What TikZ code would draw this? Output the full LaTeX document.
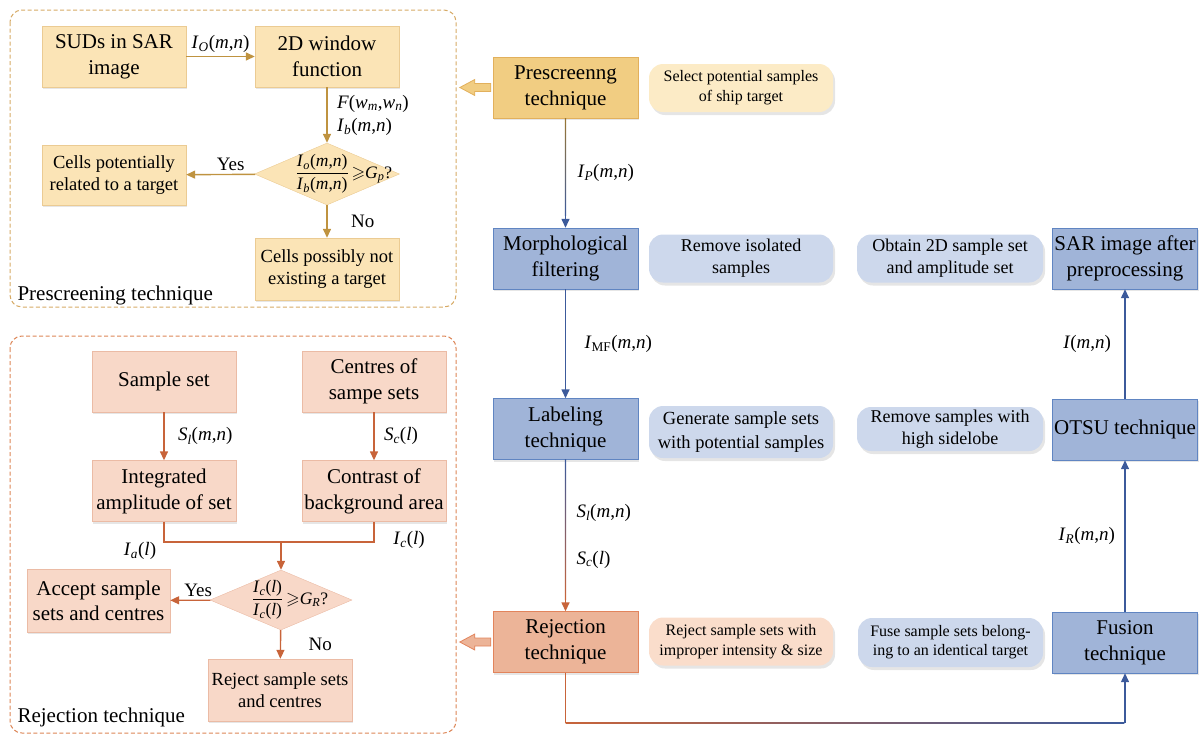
\documentclass[tikz,border=0pt]{standalone}
\usepackage{amssymb}
\usepackage{fontspec}
\setmainfont{Liberation Serif}
\usetikzlibrary{arrows.meta}
\usetikzlibrary{shapes.geometric}
\usetikzlibrary{shadows}

\definecolor{wheatf}{HTML}{FBE4B6}
\definecolor{wheatd}{HTML}{EBCB93}
\definecolor{goldf}{HTML}{F1CD82}
\definecolor{goldd}{HTML}{E2B05C}
\definecolor{goldc}{HTML}{BF9340}
\definecolor{peachf}{HTML}{F8D8C8}
\definecolor{peachd}{HTML}{EBBBA5}
\definecolor{rejf}{HTML}{ECB498}
\definecolor{rejd}{HTML}{E2845C}
\definecolor{orangec}{HTML}{C8643A}
\definecolor{bluef}{HTML}{A0B4D8}
\definecolor{blued}{HTML}{6085C2}
\definecolor{bluec}{HTML}{3C5A9B}
\definecolor{bluen}{HTML}{CDD8EC}
\definecolor{creamn}{HTML}{FCEBC6}
\definecolor{peachn}{HTML}{FADDCB}
\definecolor{pandash}{HTML}{D6AA66}
\definecolor{randash}{HTML}{DC8556}

\newcommand{\sbs}[2]{\textit{#1}\textsubscript{\textit{#2}}}
\newcommand{\mn}{(\textit{m},\textit{n})}

\begin{document}
\begin{tikzpicture}[x=1pt,y=-1pt,
	>={Triangle[length=9pt,width=8pt]},
	tbox/.style={draw=wheatd, fill=wheatf, minimum width=144pt, minimum height=61pt, align=center, inner sep=1pt, font=\fontsize{21}{26}\selectfont, drop shadow={shadow xshift=1pt, shadow yshift=-2pt, opacity=.2}},
	rbox/.style={tbox, draw=peachd, fill=peachf},
	mbox/.style={tbox, minimum width=145pt, draw=blued, fill=bluef},
	note/.style={rounded corners=14pt, minimum width=184pt, minimum height=48pt, align=center, inner sep=1pt, font=\fontsize{16}{20}\selectfont, drop shadow={shadow xshift=2pt, shadow yshift=-3pt, opacity=.25, fill=black!40}},
	dia/.style={diamond, draw=wheatd, fill=wheatf, minimum width=145pt, minimum height=62pt, inner sep=0pt},
	garr/.style={draw=goldc, line width=1.4pt},
	oarr/.style={draw=orangec, line width=1.4pt},
	barr/.style={draw=bluec, line width=1.4pt},
	lbl/.style={font=\fontsize{19}{23}\selectfont},
	ptitle/.style={anchor=west, font=\fontsize{21}{25}\selectfont},
	]
	\useasboundingbox (0,0) rectangle (1204,734);
	
	% dashed panels
	\draw[pandash, line width=1pt, dash pattern=on 4pt off 2.5pt, rounded corners=12pt] (10,10) rectangle (456,307);
	\draw[randash, line width=1pt, dash pattern=on 4pt off 2.5pt, rounded corners=12pt] (10,336) rectangle (456,733);
	
	% prescreening panel
	\node[tbox] (sud) at (114,56.5) {SUDs in SAR\\image};
	\node[tbox] (win) at (327,56.5) {2D window\\function};
	\node[dia, label={[xshift=17pt, font=\fontsize{17.5}{20}\selectfont]center:{$\displaystyle\frac{\hbox{\sbs{I}{o}\mn}}{\hbox{\sbs{I}{b}\mn}}$\,$\geqslant$\sbs{G}{p}?}}] (d1) at (327,174) {};
	\node[tbox, minimum height=60pt, font=\fontsize{18.5}{22}\selectfont] (cpr) at (114,175) {Cells potentially\\related to a target};
	\node[tbox, minimum height=62pt, font=\fontsize{18.5}{22}\selectfont] (cpn) at (327,269) {Cells possibly not\\existing a target};
	\node[ptitle] (pt1) at (14,295) {Prescreening technique};
	
	\draw[garr,->] (sud) -- (win) node[midway, above, lbl] {\sbs{I}{O}\mn};
	\draw[garr,->] (win) -- (d1) node[midway, right=6pt, lbl, align=left] {\textit{F}(\sbs{w}{m},\sbs{w}{n})\\\sbs{I}{b}\mn};
	\draw[garr,->] (d1) -- (cpr) node[midway, above, xshift=10pt, lbl] {Yes};
	\draw[garr,->] (d1) -- (cpn) node[midway, right=20pt, lbl] {No};
	
	% rejection panel
	\node[rbox] (ss) at (164,381.5) {Sample set};
	\node[rbox] (cs) at (374,381.5) {Centres of\\sampe sets};
	\node[rbox] (ia) at (164,491) {Integrated\\amplitude of set};
	\node[rbox] (cb) at (374,491) {Contrast of\\background area};
	\node[dia, draw=peachd, fill=peachf, minimum width=142pt, minimum height=60pt, label={[xshift=9pt, font=\fontsize{17.5}{20}\selectfont]center:{$\displaystyle\frac{\hbox{\sbs{I}{c}(\textit{l})}}{\hbox{\sbs{I}{c}(\textit{l})}}$\,$\geqslant$\sbs{G}{R}?}}] (d2) at (281,600) {};
	\node[rbox, minimum width=143pt, minimum height=63pt, font=\fontsize{21}{25}\selectfont] (acc) at (98.5,600.5) {Accept sample\\sets and centres};
	\node[rbox, minimum height=62pt, font=\fontsize{18.5}{22}\selectfont] (rj2) at (280,690) {Reject sample sets\\and centres};
	\node[ptitle] (pt2) at (14,717) {Rejection technique};
	\coordinate (jn) at (281,542);
	
	\draw[oarr,->] (ss) -- (ia) node[midway, right=10pt, lbl] {\sbs{S}{l}\mn};
	\draw[oarr,->] (cs) -- (cb) node[midway, right=6pt, lbl] {\sbs{S}{c}(\textit{l})};
	\draw[oarr] (ia.south) |- (jn) -| (cb.south);
	\draw[oarr,->] (jn) -- (d2);
	\node[lbl] (ial) at (140,551) {\sbs{I}{a}(\textit{l})};
	\node[lbl] (icl) at (409,540) {\sbs{I}{c}(\textit{l})};
	\draw[oarr,->] (d2) -- (acc) node[midway, above, xshift=8pt, lbl] {Yes};
	\draw[oarr,->] (d2) -- (rj2) node[midway, right=24pt, lbl] {No};
	
	% main flow
	\node[mbox, draw=goldd, fill=goldf] (pre) at (565.5,87.5) {Prescreenng\\technique};
	\node[mbox] (mor) at (565.5,258.5) {Morphological\\filtering};
	\node[mbox] (lab) at (565.5,429) {Labeling\\technique};
	\node[mbox, draw=rejd, fill=rejf] (rej) at (565.5,642) {Rejection\\technique};
	\node[mbox] (sar) at (1125,258.5) {SAR image after\\preprocessing};
	\node[mbox] (otsu) at (1125,429.5) {OTSU technique};
	\node[mbox] (fus) at (1125,642.5) {Fusion\\technique};
	
	\node[note, fill=creamn] (n1) at (741,88) {Select potential samples\\of ship target};
	\node[note, fill=bluen, font=\fontsize{18}{22}\selectfont] (n2) at (741,258.5) {Remove isolated\\samples};
	\node[note, fill=bluen, minimum height=52pt, font=\fontsize{18.5}{24}\selectfont] (n3) at (741,432) {Generate sample sets\\with potential samples};
	\node[note, fill=peachn] (n4) at (741,641.5) {Reject sample sets with\\improper intensity \& size};
	\node[note, fill=bluen, minimum width=186pt, font=\fontsize{18}{22}\selectfont] (n5) at (950,258.5) {Obtain 2D sample set\\and amplitude set};
	\node[note, fill=bluen, minimum width=186pt, minimum height=44pt, font=\fontsize{18}{22}\selectfont] (n6) at (950,429) {Remove samples with\\high sidelobe};
	\node[note, fill=bluen, minimum width=185pt, minimum height=49pt, font=\fontsize{16}{19}\selectfont] (n7) at (950.5,642.5) {Fuse sample sets belong-\\ing to an identical target};
	
	% hollow arrows to the panels
	\draw[goldd, fill=goldf, line width=0.8pt] ([xshift=-2pt]pre.west) -- ++(0,-4) -- ++(-16,0) -- ++(0,-4) -- ++(-15,8) -- ++(15,8) -- ++(0,-4) -- ++(16,0) -- cycle;
	\draw[rejd, fill=rejf, line width=0.8pt] ([xshift=-2pt]rej.west) -- ++(0,-4) -- ++(-16,0) -- ++(0,-4) -- ++(-15,8) -- ++(15,8) -- ++(0,-4) -- ++(16,0) -- cycle;
	
	% connectors
	\draw[barr,->] (pre) -- (mor) node[midway, right=8pt, lbl] {\sbs{I}{P}\mn};
	\shade[top color=goldc!80!black, bottom color=bluec] ([xshift=-0.7pt]pre.south) rectangle ([xshift=0.7pt,yshift=12pt]mor.north);
	\draw[barr,->] (mor) -- (lab) node[midway, right=15pt, lbl] {\textit{I}\textsubscript{MF}\mn};
	\draw[oarr,->] (lab) -- (rej) node[pos=0.35, right=7pt, lbl] {\sbs{S}{l}\mn} node[pos=0.66, right=7pt, lbl] {\sbs{S}{c}(\textit{l})};
	\shade[top color=bluec, bottom color=orangec] ([xshift=-0.7pt]lab.south) rectangle ([xshift=0.7pt,yshift=12pt]rej.north);
	\coordinate (cl) at ([yshift=-50pt]rej.south);
	\coordinate (cr) at (cl -| fus.south);
	\draw[barr,->] (rej.south) -- (cl) -- (cr) -- (fus.south);
	\draw[oarr] (rej.south) -- ([yshift=-0.7pt]cl);
	\shade[left color=orangec, right color=bluec] ([yshift=0.7pt]cl) rectangle ([yshift=-0.7pt,xshift=-0.7pt]cr);
	\draw[barr,->] (fus) -- (otsu) node[midway, left=6pt, lbl] {\sbs{I}{R}\mn};
	\draw[barr,->] (otsu) -- (sar) node[midway, left=10pt, lbl] {\textit{I}\mn};
	
\end{tikzpicture}
\end{document}
